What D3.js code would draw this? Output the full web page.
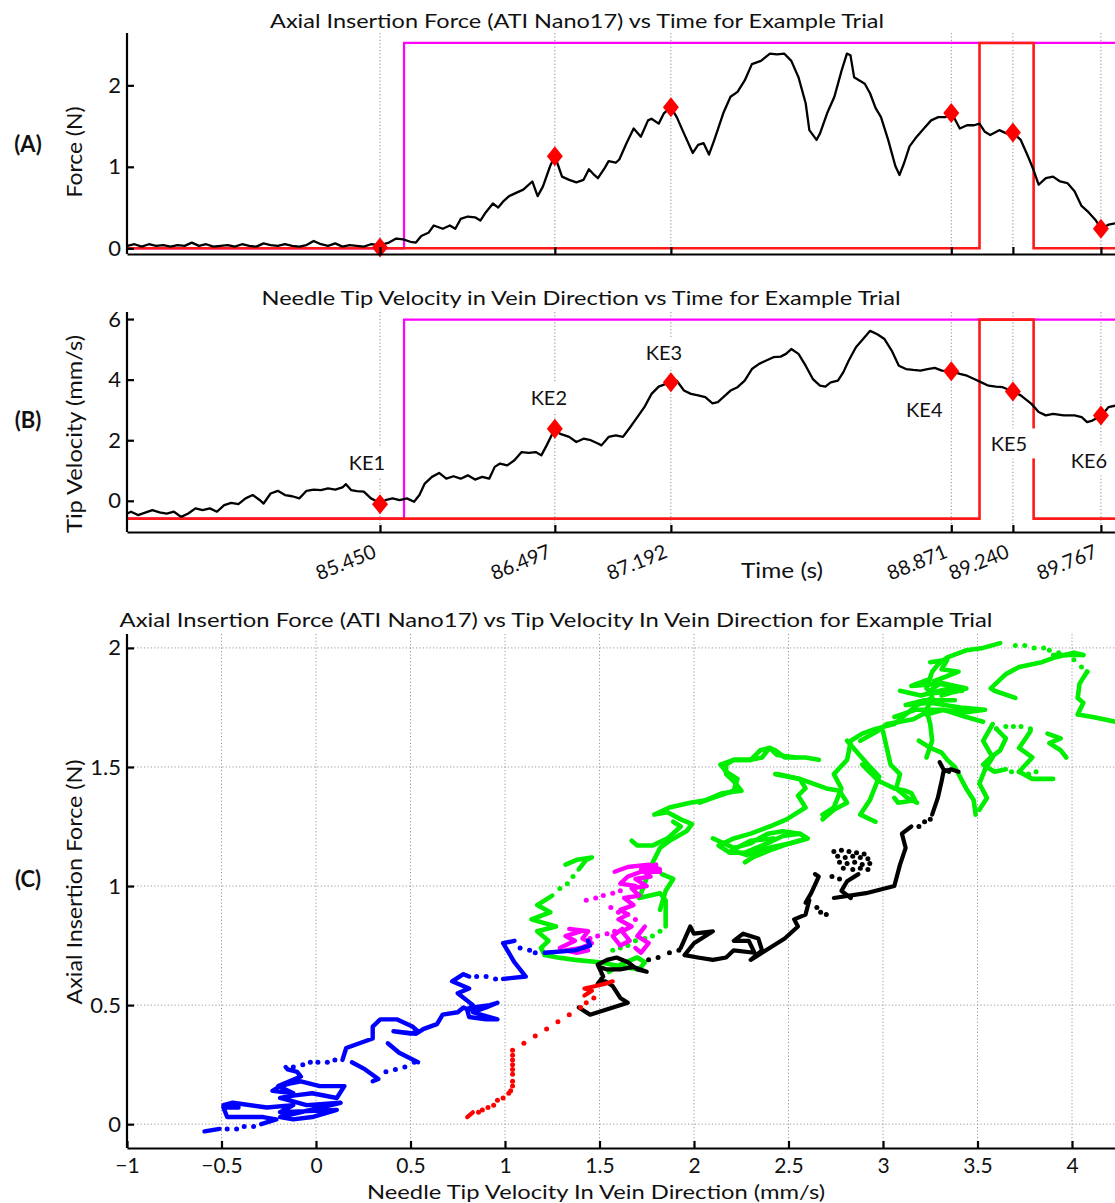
<!DOCTYPE html>
<html>
<head>
<meta charset="utf-8">
<script src="https://cdn.jsdelivr.net/npm/d3@7"></script>
<style>
  body { margin: 0; background: #fff; }
  svg text { fill: #111; }
</style>
</head>
<body>
<svg id="fig" width="1115" height="1203"></svg>
<script>
// ---------- key events ----------
const keNames  = ["KE1", "KE2", "KE3", "KE4", "KE5", "KE6"];
const keTimes  = [85.450, 86.497, 87.192, 88.871, 89.240, 89.767];
const keForce  = [0.01, 1.13, 1.73, 1.66, 1.42, 0.24];
const keVel    = [-0.11, 2.38, 3.91, 4.28, 3.61, 2.82];

// ---------- phase gate signals (time, state 0/1) ----------
const gateMagenta = [[83.935, 0], [85.594, 0], [85.594, 1], [90.2, 1]];
const gateRed     = [[83.935, 0], [89.040, 0], [89.040, 1], [89.364, 1], [89.364, 0], [90.2, 0]];
const gateLevelsA = [0, 2.52];
const gateLevelsB = [-0.59, 5.98];

// ---------- axial force vs time (s, N) ----------
const forceTrace = [
  [83.937,0.03],[83.980,0.05],[84.023,0.02],[84.066,0.05],[84.109,0.03],[84.152,0.04],[84.195,0.02],[84.238,0.04],
  [84.280,0.03],[84.323,0.07],[84.366,0.03],[84.409,0.05],[84.452,0.02],[84.495,0.03],[84.538,0.04],[84.581,0.02],
  [84.624,0.05],[84.667,0.03],[84.710,0.02],[84.753,0.06],[84.795,0.04],[84.838,0.03],[84.881,0.05],[84.924,0.03],
  [84.967,0.02],[85.010,0.04],[85.053,0.09],[85.096,0.05],[85.139,0.03],[85.182,0.06],[85.225,0.02],[85.268,0.04],
  [85.311,0.03],[85.353,0.02],[85.396,0.05],[85.450,0.04],
  [85.504,0.07],[85.547,0.12],[85.589,0.11],[85.632,0.08],[85.665,0.07],[85.697,0.15],[85.740,0.19],[85.772,0.28],
  [85.826,0.24],[85.868,0.28],[85.901,0.24],[85.933,0.36],[85.976,0.39],[86.019,0.38],[86.051,0.34],[86.083,0.44],
  [86.126,0.55],[86.158,0.50],[86.190,0.58],[86.223,0.64],[86.265,0.68],[86.308,0.72],[86.362,0.82],[86.394,0.64],
  [86.426,0.76],[86.469,1.01],[86.497,1.13],
  [86.518,1.01],[86.540,0.88],[86.583,0.84],[86.626,0.81],[86.669,0.84],[86.701,0.97],[86.733,0.90],[86.755,0.86],
  [86.797,0.99],[86.819,1.07],[86.862,1.05],[86.883,1.09],[86.926,1.29],[86.969,1.47],[87.012,1.37],[87.055,1.57],
  [87.076,1.59],[87.119,1.53],[87.151,1.66],[87.192,1.73],[87.227,1.61],[87.270,1.41],[87.323,1.17],[87.355,1.27],
  [87.388,1.29],[87.420,1.15],[87.452,1.33],[87.506,1.66],[87.549,1.86],[87.591,1.92],[87.634,2.06],[87.677,2.26],
  [87.731,2.30],[87.785,2.39],[87.827,2.38],[87.870,2.39],[87.913,2.30],[87.956,2.10],[87.999,1.78],[88.021,1.45],
  [88.064,1.33],[88.085,1.41],[88.128,1.66],[88.171,1.86],[88.214,2.18],[88.246,2.39],[88.267,2.37],[88.289,2.10],
  [88.321,2.06],[88.353,2.02],[88.385,1.90],[88.418,1.72],[88.450,1.61],[88.493,1.33],[88.536,1.01],[88.561,0.90],
  [88.589,1.05],[88.621,1.25],[88.664,1.37],[88.707,1.47],[88.750,1.57],[88.793,1.61],[88.836,1.61],[88.873,1.66],
  [88.922,1.47],[88.965,1.51],[89.008,1.51],[89.040,1.53],[89.072,1.43],[89.104,1.39],[89.158,1.45],[89.201,1.41],
  [89.239,1.42],[89.287,1.33],[89.330,1.13],[89.362,0.97],[89.394,0.78],[89.437,0.86],[89.480,0.88],[89.523,0.82],
  [89.566,0.80],[89.609,0.70],[89.651,0.52],[89.694,0.44],[89.737,0.34],[89.769,0.24],[89.812,0.29],[89.861,0.31],
  [89.930,0.36]
];

// ---------- tip velocity vs time (s, mm/s) ----------
const velTrace = [
  [83.937,-0.42],[83.959,-0.36],[84.001,-0.47],[84.044,-0.39],[84.087,-0.31],[84.130,-0.38],[84.173,-0.42],[84.216,-0.36],
  [84.259,-0.53],[84.302,-0.42],[84.345,-0.25],[84.388,-0.31],[84.431,-0.25],[84.474,-0.36],[84.517,-0.14],[84.559,-0.07],
  [84.602,-0.11],[84.645,0.08],[84.688,0.19],[84.731,0.02],[84.753,-0.09],[84.795,0.24],[84.838,0.33],[84.881,0.19],
  [84.924,0.15],[84.967,0.08],[85.010,0.33],[85.053,0.37],[85.096,0.35],[85.139,0.41],[85.182,0.37],[85.225,0.44],
  [85.246,0.55],[85.278,0.35],[85.311,0.32],[85.353,0.30],[85.396,0.08],[85.450,-0.07],[85.482,0.02],[85.525,0.08],
  [85.568,0.02],[85.611,0.08],[85.654,-0.03],[85.686,0.19],[85.718,0.57],[85.761,0.79],[85.804,0.92],[85.847,0.73],
  [85.890,0.81],[85.933,0.73],[85.976,0.84],[86.019,0.70],[86.062,0.79],[86.104,0.73],[86.137,1.12],[86.169,1.23],
  [86.212,1.17],[86.255,1.34],[86.298,1.61],[86.341,1.58],[86.383,1.61],[86.416,1.50],[86.448,1.83],[86.497,2.38],
  [86.529,2.21],[86.583,2.11],[86.626,1.94],[86.669,2.05],[86.712,2.00],[86.755,1.89],[86.776,1.83],[86.819,2.11],
  [86.862,2.16],[86.905,2.11],[86.948,2.43],[86.991,2.76],[87.033,3.09],[87.076,3.53],[87.119,3.77],[87.162,3.86],
  [87.192,3.91],[87.227,3.97],[87.270,3.64],[87.312,3.53],[87.355,3.48],[87.398,3.42],[87.441,3.22],[87.473,3.26],
  [87.506,3.42],[87.549,3.64],[87.591,3.75],[87.634,3.97],[87.677,4.35],[87.720,4.52],[87.763,4.63],[87.806,4.74],
  [87.849,4.76],[87.881,4.85],[87.913,5.01],[87.956,4.85],[87.999,4.46],[88.042,4.02],[88.085,3.80],[88.117,3.77],
  [88.149,3.91],[88.192,3.97],[88.224,4.24],[88.257,4.63],[88.300,5.07],[88.343,5.34],[88.385,5.61],[88.428,5.50],
  [88.471,5.34],[88.514,4.96],[88.557,4.46],[88.600,4.35],[88.643,4.32],[88.686,4.30],[88.729,4.35],[88.772,4.39],
  [88.815,4.30],[88.873,4.28],[88.922,4.19],[88.965,4.13],[89.008,4.02],[89.051,3.91],[89.094,3.80],[89.137,3.77],
  [89.179,3.75],[89.239,3.61],[89.287,3.48],[89.351,3.20],[89.394,2.93],[89.437,2.82],[89.480,2.87],[89.544,2.82],
  [89.609,2.82],[89.652,2.76],[89.684,2.60],[89.716,2.65],[89.770,2.82],[89.812,3.09],[89.861,3.15],[89.930,3.20]
];

// ---------- force vs velocity phase portrait (mm/s, N) ----------
const blueLines = [
  [[-0.59,-0.03],[-0.51,-0.02]],
  [[-0.29,0.00],[-0.21,0.02],[-0.28,0.03],[-0.47,0.03],[-0.49,0.07],[-0.41,0.07],[-0.49,0.08],[-0.44,0.09],[-0.26,0.07],
   [-0.12,0.08],[-0.19,0.05],[0.11,0.06],[-0.02,0.03],[-0.12,0.02],[-0.19,0.03],[0.13,0.09],[-0.05,0.08],[-0.14,0.10],
   [-0.19,0.11],[-0.12,0.12],[-0.02,0.13],[0.11,0.11],[0.15,0.16],[0.02,0.16],[-0.08,0.18],[-0.14,0.17],[-0.19,0.16],
   [-0.23,0.14],[-0.12,0.13],[-0.20,0.16],[-0.14,0.18],[-0.08,0.20],[-0.10,0.22],[-0.15,0.23],[-0.16,0.24]],
  [[0.14,0.27],[0.16,0.32],[0.30,0.36],[0.30,0.41],[0.34,0.44],[0.43,0.44],[0.51,0.41],[0.54,0.39],[0.50,0.38],[0.41,0.39],
   [0.53,0.38],[0.57,0.40],[0.64,0.42],[0.67,0.46],[0.75,0.47],[0.78,0.49],[0.81,0.48],[0.83,0.49],[0.92,0.50],[0.96,0.51],
   [0.90,0.49],[0.83,0.47],[0.96,0.44],[0.90,0.44],[0.81,0.45],[0.80,0.48],[0.83,0.50],[0.75,0.55],[0.81,0.57],[0.72,0.60],
   [0.78,0.63],[0.81,0.62]],
  [[0.19,0.26],[0.26,0.23],[0.33,0.19],[0.30,0.18]],
  [[0.38,0.34],[0.44,0.30],[0.54,0.26]],
  [[0.99,0.61],[1.11,0.62],[1.05,0.68],[0.99,0.76],[1.05,0.77]],
  [[1.21,0.72],[1.37,0.73],[1.45,0.75],[1.44,0.77]]
];
const blueDots = [[-0.47,-0.02],[-0.42,-0.02],[-0.38,-0.01],[-0.33,-0.01],[-0.12,0.24],[-0.07,0.25],[-0.03,0.26],
  [0.01,0.26],[0.06,0.26],[0.10,0.27],[0.37,0.22],[0.42,0.23],[0.47,0.24],[0.52,0.26],[0.85,0.62],[0.90,0.62],
  [0.95,0.61],[1.08,0.74],[1.13,0.73],[1.16,0.72]];

const redLines = [
  [[0.80,0.03],[0.83,0.05]],
  [[1.42,0.54],[1.46,0.56],[1.42,0.57],[1.48,0.58],[1.53,0.59],[1.57,0.60]]
];
const redDots = [[0.86,0.05],[0.88,0.06],[0.91,0.07],[0.94,0.08],[0.96,0.10],[0.99,0.11],[1.02,0.13],[1.03,0.14],
  [1.04,0.16],[1.04,0.18],[1.04,0.21],[1.04,0.23],[1.04,0.25],[1.04,0.27],[1.04,0.29],[1.04,0.31],[1.10,0.34],
  [1.16,0.37],[1.22,0.40],[1.28,0.43],[1.34,0.46],[1.40,0.49],[1.43,0.51],[1.47,0.53]];

const magentaLines = [
  [[1.29,0.74],[1.37,0.77],[1.32,0.79],[1.40,0.81],[1.34,0.82],[1.44,0.81],[1.41,0.78],[1.46,0.76],[1.40,0.74],
   [1.32,0.73],[1.38,0.72],[1.44,0.73]],
  [[1.62,0.82],[1.57,0.79],[1.61,0.75],[1.66,0.77],[1.62,0.81],[1.67,0.83],[1.60,0.86],[1.65,0.88],[1.61,0.90],
   [1.68,0.92],[1.63,0.95],[1.71,0.96],[1.67,0.99],[1.75,1.00],[1.69,1.03],[1.77,1.04],[1.72,1.07],[1.80,1.09],
   [1.75,1.06],[1.82,1.06]],
  [[1.58,1.06],[1.65,1.08],[1.76,1.09],[1.82,1.07],[1.72,1.06],[1.65,1.04],[1.61,1.01],[1.69,1.00]],
  [[1.74,0.83],[1.70,0.79],[1.76,0.76],[1.72,0.72],[1.69,0.74]]
];
const magentaDots = [[1.45,0.78],[1.49,0.79],[1.54,0.80],[1.58,0.81],[1.43,0.94],[1.48,0.95],[1.52,0.96],
  [1.57,0.97],[1.61,0.98],[1.56,0.91],[1.60,0.89],[1.65,0.88],[1.69,0.86]];

const blackLines = [
  [[1.39,0.49],[1.45,0.46],[1.65,0.51],[1.61,0.53],[1.57,0.58],[1.53,0.60],[1.49,0.59],[1.52,0.62],[1.49,0.67],
   [1.54,0.69],[1.59,0.70],[1.65,0.68],[1.70,0.65],[1.75,0.64],[1.68,0.66],[1.61,0.65],[1.54,0.65],[1.50,0.66]],
  [[1.93,0.74],[1.98,0.83],[2.00,0.80],[2.10,0.81],[2.00,0.76],[1.95,0.71],[2.02,0.70],[2.10,0.69],[2.17,0.70],
   [2.21,0.73],[2.32,0.72],[2.29,0.77],[2.21,0.77],[2.26,0.80],[2.34,0.78],[2.36,0.73],[2.30,0.69],[2.40,0.74],
   [2.48,0.78],[2.55,0.83],[2.53,0.86],[2.59,0.88],[2.61,0.94]],
  [[2.59,0.93],[2.62,0.97],[2.66,1.04],[2.64,1.05]],
  [[2.83,0.95],[2.78,0.98],[2.81,1.02],[2.87,1.05]],
  [[2.74,0.95],[2.91,0.97],[3.06,1.00],[3.09,1.09],[3.12,1.16],[3.10,1.22],[3.15,1.25]],
  [[3.26,1.30],[3.29,1.37],[3.31,1.44],[3.32,1.48],[3.36,1.49],[3.40,1.48]],
  [[3.30,1.52],[3.32,1.49],[3.35,1.48]]
];
const blackDots = [[1.76,0.69],[1.81,0.70],[1.87,0.72],[1.92,0.73],[2.65,0.91],[2.67,0.89],[2.70,0.88],
  [2.74,1.145],[2.78,1.15],[2.82,1.145],[2.86,1.14],[2.90,1.135],
  [2.76,1.125],[2.80,1.12],[2.84,1.125],[2.88,1.12],[2.92,1.115],
  [2.77,1.10],[2.81,1.095],[2.85,1.10],[2.89,1.09],[2.93,1.095],
  [2.79,1.075],[2.84,1.07],[2.88,1.075],[2.92,1.07],
  [2.73,1.04],[2.77,1.03],[3.19,1.25],[3.22,1.27],[3.25,1.28]];

const greenLines = [
  [[1.55,0.64],[1.61,0.67],[1.70,0.70],[1.74,0.68],[1.71,0.65],[1.63,0.66],[1.50,0.68],[1.37,0.69],[1.28,0.70],
   [1.21,0.71],[1.19,0.74],[1.23,0.77],[1.17,0.81],[1.27,0.83],[1.14,0.86],[1.24,0.89],[1.17,0.92],[1.25,0.96]],
  [[1.39,1.07],[1.43,1.11],[1.46,1.12],[1.38,1.11],[1.32,1.09]],
  [[1.71,0.95],[1.82,0.97],[1.85,0.94],[1.85,0.88],[1.85,0.83]],
  [[1.82,0.90],[1.85,0.98],[1.89,1.03],[1.83,1.05]],
  [[1.71,0.95],[1.73,0.99],[1.77,1.08],[1.82,1.16],[1.87,1.19],[1.96,1.23],[1.99,1.26],[1.93,1.28],[1.86,1.31],
   [1.79,1.30],[1.87,1.33],[1.98,1.35],[2.06,1.36],[2.15,1.39],[2.25,1.40]],
  [[1.67,1.19],[1.70,1.17],[1.78,1.17],[1.86,1.20],[1.93,1.25],[1.89,1.27]],
  [[2.25,1.40],[2.21,1.44],[2.17,1.47],[2.17,1.51],[2.21,1.53],[2.30,1.53],[2.36,1.54],[2.40,1.58],[2.43,1.57],
   [2.48,1.54],[2.59,1.54],[2.66,1.53]],
  [[2.03,1.35],[2.10,1.37],[2.21,1.40],[2.23,1.45],[2.17,1.48],[2.14,1.51],[2.21,1.53],[2.30,1.53],[2.35,1.57],
   [2.40,1.58],[2.44,1.55],[2.54,1.54]],
  [[2.43,1.47],[2.56,1.45],[2.59,1.41],[2.55,1.38],[2.59,1.33],[2.49,1.28],[2.40,1.25],[2.30,1.22],[2.21,1.20],
   [2.13,1.17],[2.19,1.14],[2.27,1.14],[2.33,1.16],[2.39,1.18],[2.47,1.21],[2.56,1.22],[2.60,1.20],[2.51,1.18],
   [2.40,1.15],[2.31,1.12],[2.27,1.10]],
  [[2.10,1.20],[2.21,1.16],[2.30,1.18],[2.39,1.22],[2.47,1.23],[2.56,1.22],[2.60,1.20],[2.51,1.18],[2.39,1.16],
   [2.28,1.13],[2.20,1.15],[2.30,1.19],[2.42,1.20]],
  [[2.44,1.47],[2.56,1.45],[2.70,1.41],[2.77,1.40],[2.81,1.35],[2.74,1.32],[2.68,1.28]],
  [[2.68,1.30],[2.74,1.33],[2.78,1.41],[2.74,1.47],[2.81,1.53],[2.83,1.61],[2.89,1.64],[2.96,1.66],[3.06,1.68],
   [3.12,1.72],[3.18,1.76],[3.26,1.79]],
  [[2.88,1.61],[2.97,1.65],[3.02,1.68],[3.09,1.69],[3.16,1.70],[3.23,1.73]],
  [[3.00,1.65],[3.02,1.58],[3.04,1.51],[3.09,1.47],[3.07,1.41],[3.13,1.37],[3.18,1.35]],
  [[2.89,1.51],[2.94,1.47],[2.98,1.44],[3.06,1.41],[3.12,1.40],[3.15,1.39],[3.17,1.36],[3.08,1.35],[3.06,1.37]],
  [[3.19,1.61],[3.25,1.58],[3.31,1.56],[3.34,1.53],[3.38,1.50],[3.44,1.41],[3.48,1.36],[3.49,1.30]],
  [[3.23,1.54],[3.26,1.61],[3.25,1.68],[3.23,1.74],[3.26,1.79],[3.25,1.82],[3.30,1.85],[3.41,1.83],[3.42,1.82],
   [3.26,1.81],[3.23,1.83],[3.26,1.90],[3.29,1.93],[3.34,1.96],[3.44,1.99],[3.53,2.00],[3.62,2.02]],
  [[3.25,1.94],[3.34,1.95],[3.31,1.91],[3.40,1.90],[3.27,1.86],[3.44,1.83],[3.31,1.80]],
  [[3.09,1.82],[3.20,1.80],[3.35,1.83],[3.44,1.83],[3.30,1.85],[3.15,1.84],[3.25,1.87]],
  [[3.23,1.72],[3.32,1.74],[3.44,1.71],[3.53,1.69]],
  [[3.90,1.97],[4.06,1.97]],
  [[4.08,1.90],[4.04,1.85],[4.03,1.79],[4.06,1.77],[4.03,1.72],[4.11,1.71],[4.23,1.69]],
  [[3.70,1.79],[3.59,1.82],[3.57,1.83],[3.65,1.89],[3.72,1.92],[3.84,1.94],[3.91,1.96],[4.01,1.98],[4.06,1.97]],
  [[3.60,1.66],[3.65,1.62],[3.62,1.57],[3.57,1.54],[3.53,1.51],[3.59,1.48],[3.65,1.49]],
  [[3.58,1.68],[3.53,1.61],[3.58,1.54],[3.54,1.49]],
  [[3.78,1.65],[3.72,1.58],[3.79,1.54],[3.72,1.48],[3.79,1.45],[3.90,1.45]],
  [[3.87,1.64],[3.94,1.62],[3.88,1.60],[3.94,1.57],[3.97,1.54]],
  [[3.55,1.51],[3.51,1.43],[3.55,1.37],[3.51,1.32]],
  [[3.06,1.71],[3.17,1.74],[3.30,1.74],[3.44,1.73],[3.54,1.74],[3.41,1.75],[3.25,1.77],[3.12,1.76],[3.22,1.78],[3.38,1.78]],
  [[2.81,1.61],[2.92,1.51],[2.98,1.46],[2.93,1.36],[2.88,1.30],[2.96,1.27]]
];
const greenDots = [[1.29,0.99],[1.33,1.01],[1.36,1.04],[1.82,0.81],[1.78,0.79],[1.74,0.78],[1.69,0.77],[1.65,0.75],
  [1.61,0.74],[1.57,0.73],[3.70,2.01],[3.75,2.01],[3.80,2.00],[3.85,2.00],[3.88,1.99],[3.93,1.98],[3.97,1.97],
  [4.01,1.95],[4.05,1.92],[4.08,1.90],[3.60,1.66],[3.65,1.67],[3.69,1.67],[3.73,1.67],[3.78,1.66],[3.68,1.48],
  [3.72,1.48],[3.77,1.47],[3.81,1.48],[4.27,1.69],[4.31,1.69]];

// ---------- axis ticks ----------
const tickForceA = [0, 1, 2];
const tickVelB   = [0, 2, 4, 6];
const tickVelC   = [-1, -0.5, 0, 0.5, 1, 1.5, 2, 2.5, 3, 3.5, 4];
const tickForceC = [0, 0.5, 1, 1.5, 2];

// ---------- drawing ----------
const FONT = "Lato, 'Open Sans', 'DejaVu Sans', sans-serif";
const svg = d3.select("#fig");
const defs = svg.append("defs");

const left = 127;
const xT = d3.scaleLinear().domain([83.935, 90.013]).range([left, 1142]);
const yA = d3.scaleLinear().domain([-0.07, 2.63]).range([254, 34]);
const yB = d3.scaleLinear().domain([-1.03, 6.2]).range([532, 313]);
const xC = d3.scaleLinear().domain([-1, 4.5]).range([left, 1166.5]);
const yC = d3.scaleLinear().domain([-0.1, 2.05]).range([1148, 636]);

function addClip(id, x0, y0, x1, y1) {
  defs.append("clipPath").attr("id", id).append("rect")
    .attr("x", x0).attr("y", y0).attr("width", x1 - x0).attr("height", y1 - y0);
}
addClip("clipA", left, 20, 1142, 262);
addClip("clipB", left, 300, 1142, 540);
addClip("clipC", left, 630, 1166, 1150);

function styleAxis(g, size) {
  g.attr("font-family", FONT).attr("font-size", size);
  g.select(".domain").attr("stroke", "#000").attr("stroke-width", 2.2);
  g.selectAll(".tick line").attr("stroke", "#000").attr("stroke-width", 2.2);
  g.selectAll(".tick text").attr("fill", "#111");
}

function addText(x, y, str, opts = {}) {
  const t = svg.append("text").attr("x", x).attr("y", y).text(str)
    .attr("font-family", FONT).attr("font-size", opts.size || 20)
    .attr("text-anchor", opts.anchor || "middle");
  if (opts.weight) t.attr("font-weight", opts.weight);
  if (opts.rotate) t.attr("transform", `rotate(${opts.rotate},${x},${y})`);
  if (opts.len) t.attr("textLength", opts.len).attr("lengthAdjust", "spacingAndGlyphs");
  return t;
}

const diamond = "M0,-10L8,0L0,10L-8,0Z";

function timePanel(yS, trace, keVals, levels, clipId, top, bottom) {
  const g = svg.append("g");
  // dotted key-event guides
  g.selectAll("line.ke").data(keTimes).join("line")
    .attr("x1", d => xT(d)).attr("x2", d => xT(d))
    .attr("y1", top).attr("y2", bottom)
    .attr("stroke", "#8a8a8a").attr("stroke-width", 1).attr("stroke-dasharray", "1.2,2.2");
  const plot = g.append("g").attr("clip-path", `url(#${clipId})`);
  const gateLine = d3.line().x(d => xT(d[0])).y(d => yS(levels[d[1]]));
  plot.append("path").attr("d", gateLine(gateMagenta)).attr("fill", "none")
    .attr("stroke", "#ff00ff").attr("stroke-width", 2.2);
  plot.append("path").attr("d", gateLine(gateRed)).attr("fill", "none")
    .attr("stroke", "#ff1a1a").attr("stroke-width", 2.6);
  plot.append("path").attr("d", d3.line().x(d => xT(d[0])).y(d => yS(d[1]))(trace))
    .attr("fill", "none").attr("stroke", "#000").attr("stroke-width", 2.3).attr("stroke-linejoin", "round");
  plot.selectAll("path.ked").data(keTimes).join("path")
    .attr("d", diamond).attr("fill", "#ff0000")
    .attr("transform", (d, i) => `translate(${xT(d)},${yS(keVals[i])})`);
  return g;
}

// ----- panel A -----
timePanel(yA, forceTrace, keForce, gateLevelsA, "clipA", 33, 254);
const axAy = svg.append("g").attr("transform", `translate(${left},0)`)
  .call(d3.axisLeft(yA).tickValues(tickForceA).tickSize(-7).tickSizeOuter(0).tickPadding(6).tickFormat(d3.format("d")));
styleAxis(axAy, 22);
axAy.select(".domain").attr("d", `M0,${yA.range()[1] - 1}V${yA.range()[0]}`);
const axAx = svg.append("g").attr("transform", `translate(0,254)`)
  .call(d3.axisBottom(xT).tickValues(keTimes).tickSize(-7).tickSizeOuter(0).tickFormat(""));
styleAxis(axAx, 20);
addText(577, 28, "Axial Insertion Force (ATI Nano17) vs Time for Example Trial", { size: 20, len: 614 });
addText(82, 152, "Force (N)", { size: 21, rotate: -90, len: 91 });
addText(28, 152, "(A)", { size: 22, weight: "bold" });

// ----- panel B -----
timePanel(yB, velTrace, keVel, gateLevelsB, "clipB", 312, 532);
// key event labels with white backing
const keLabelOffset = [[-13, -34], [-6, -24], [-7, -22], [-27, 46], [-4, 60], [-12, 53]];
keNames.forEach((name, i) => {
  const x = xT(keTimes[i]) + keLabelOffset[i][0];
  const y = yB(keVel[i]) + keLabelOffset[i][1];
  const bg = svg.append("rect").attr("fill", "#fff");
  const t = addText(x, y, name, { size: 20 });
  const bb = t.node().getBBox();
  bg.attr("x", bb.x - 8).attr("y", bb.y - 3).attr("width", bb.width + 16).attr("height", bb.height + 6);
});
const axBy = svg.append("g").attr("transform", `translate(${left},0)`)
  .call(d3.axisLeft(yB).tickValues(tickVelB).tickSize(-7).tickSizeOuter(0).tickPadding(6).tickFormat(d3.format("d")));
styleAxis(axBy, 22);
axBy.select(".domain").attr("d", `M0,${yB.range()[1] - 1}V${yB.range()[0]}`);
const axBx = svg.append("g").attr("transform", `translate(0,532)`)
  .call(d3.axisBottom(xT).tickValues(keTimes).tickSize(-7).tickSizeOuter(0).tickFormat(d3.format(".3f")));
styleAxis(axBx, 20);
axBx.selectAll(".tick text").attr("y", 0).attr("dy", 0).attr("text-anchor", "end")
  .attr("transform", "translate(-3,25) rotate(-22)");
addText(581, 305, "Needle Tip Velocity in Vein Direction vs Time for Example Trial", { size: 20, len: 639 });
addText(782, 578, "Time (s)", { size: 21, len: 82 });
addText(82, 434, "Tip Velocity (mm/s)", { size: 21, rotate: -90, len: 198 });
addText(28, 428, "(B)", { size: 22, weight: "bold" });

// ----- panel C -----
const gC = svg.append("g");
gC.selectAll("line.gx").data(tickVelC.filter(d => d > -1)).join("line")
  .attr("x1", d => xC(d)).attr("x2", d => xC(d)).attr("y1", 634).attr("y2", 1148)
  .attr("stroke", "#9a9a9a").attr("stroke-width", 1).attr("stroke-dasharray", "1.2,2.2");
gC.selectAll("line.gy").data(tickForceC).join("line")
  .attr("x1", left).attr("x2", 1166).attr("y1", d => yC(d)).attr("y2", d => yC(d))
  .attr("stroke", "#9a9a9a").attr("stroke-width", 1).attr("stroke-dasharray", "1.2,2.2");

const plotC = gC.append("g").attr("clip-path", "url(#clipC)");
const lineC = d3.line().x(d => xC(d[0])).y(d => yC(d[1]));
function drawSeries(lines, dots, color, width) {
  const g = plotC.append("g");
  g.selectAll("path").data(lines).join("path").attr("d", lineC).attr("fill", "none")
    .attr("stroke", color).attr("stroke-width", width)
    .attr("stroke-linejoin", "round").attr("stroke-linecap", "round");
  g.selectAll("circle").data(dots).join("circle")
    .attr("cx", d => xC(d[0])).attr("cy", d => yC(d[1])).attr("r", 2.5).attr("fill", color);
}
drawSeries(greenLines, greenDots, "#00ee00", 4.6);
drawSeries(magentaLines, magentaDots, "#ff00ff", 4.4);
drawSeries(blueLines, blueDots, "#0000ff", 4.4);
drawSeries(blackLines, blackDots, "#000000", 4.2);
drawSeries(redLines, redDots, "#ff0000", 4.2);

const minusFmt = d => (d < 0 ? "\u2212" + Math.abs(d) : String(d));
const axCy = svg.append("g").attr("transform", `translate(${left},0)`)
  .call(d3.axisLeft(yC).tickValues(tickForceC).tickSize(-7).tickSizeOuter(0).tickPadding(6).tickFormat(minusFmt));
styleAxis(axCy, 22);
axCy.select(".domain").attr("d", `M0,634V1148`);
const axCx = svg.append("g").attr("transform", `translate(0,1148)`)
  .call(d3.axisBottom(xC).tickValues(tickVelC).tickSize(-7).tickSizeOuter(0).tickPadding(10).tickFormat(minusFmt));
styleAxis(axCx, 21);
addText(556, 627, "Axial Insertion Force (ATI Nano17) vs Tip Velocity In Vein Direction for Example Trial", { size: 20, len: 873 });
addText(596, 1199, "Needle Tip Velocity In Vein Direction (mm/s)", { size: 20, len: 458 });
addText(82, 882, "Axial Insertion Force (N)", { size: 21, rotate: -90, len: 245 });
addText(28, 887, "(C)", { size: 22, weight: "bold" });
</script>
</body>
</html>
